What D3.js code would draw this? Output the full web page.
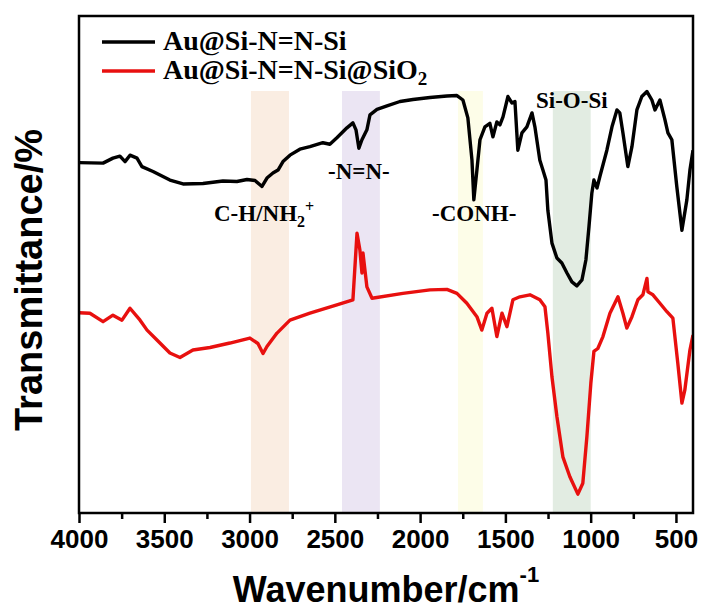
<!DOCTYPE html>
<html>
<head>
<meta charset="utf-8">
<script src="https://cdn.jsdelivr.net/npm/d3@7"></script>
<style>
  body { margin: 0; background: #fff; }
  .serif { font-family: "Liberation Serif", "Times New Roman", serif; font-weight: bold; }
  .sans { font-family: "Liberation Sans", Arial, sans-serif; font-weight: bold; }
</style>
</head>
<body>
<div id="chart"></div>
<script>
// wavenumber (cm-1) and transmittance (arbitrary %, offset spectra)
const waveBlack = [4000, 3859, 3801, 3760, 3730, 3701, 3660, 3631, 3566, 3467, 3390, 3273, 3156, 3074, 3015, 2968, 2927, 2898, 2863, 2833, 2804, 2763, 2705, 2646, 2570, 2529, 2488, 2429, 2394, 2376, 2359, 2341, 2312, 2294, 2253, 2194, 2118, 2042, 1942, 1843, 1784, 1749, 1720, 1696, 1685, 1667, 1649, 1620, 1591, 1573, 1550, 1532, 1514, 1485, 1462, 1444, 1427, 1403, 1374, 1344, 1327, 1298, 1280, 1262, 1251, 1227, 1198, 1169, 1139, 1110, 1081, 1051, 1028, 1010, 993, 981, 963, 946, 905, 875, 846, 829, 811, 782, 758, 729, 700, 670, 641, 623, 594, 565, 547, 524, 495, 465, 436, 418, 400]
const transBlack = [70.5, 70.4, 71.4, 71.8, 70.7, 72.0, 71.4, 69.7, 68.7, 67.0, 66.2, 66.3, 66.8, 66.7, 67.1, 66.9, 65.7, 67.4, 68.4, 69.0, 70.7, 72.0, 73.2, 73.7, 74.5, 74.2, 75.5, 77.5, 78.5, 77.1, 73.4, 75.1, 77.1, 80.1, 81.2, 81.9, 82.8, 83.2, 83.6, 83.9, 84.0, 83.1, 79.5, 71.0, 63.0, 69.0, 75.1, 77.7, 78.4, 75.7, 78.7, 78.1, 79.7, 83.8, 82.5, 82.8, 73.0, 76.5, 77.7, 80.5, 77.7, 71.0, 69.0, 67.0, 60.9, 54.3, 51.3, 50.3, 48.3, 46.5, 45.7, 46.9, 50.9, 57.6, 64.4, 67.0, 65.4, 67.7, 73.0, 77.7, 81.1, 80.5, 76.5, 69.7, 73.7, 81.1, 83.8, 84.8, 83.1, 81.1, 83.1, 79.2, 76.5, 75.1, 65.7, 56.9, 63.0, 69.0, 73.0]

const waveRed = [4000, 3936, 3859, 3801, 3748, 3701, 3642, 3601, 3543, 3467, 3408, 3332, 3232, 3115, 2998, 2951, 2921, 2898, 2839, 2763, 2646, 2488, 2394, 2370, 2353, 2341, 2335, 2312, 2282, 2101, 1942, 1843, 1784, 1726, 1667, 1638, 1608, 1579, 1550, 1520, 1491, 1456, 1415, 1356, 1298, 1268, 1251, 1227, 1198, 1163, 1122, 1075, 1046, 1022, 999, 981, 958, 928, 887, 840, 811, 788, 758, 723, 694, 670, 664, 635, 594, 553, 518, 489, 465, 448, 418, 400]
const transRed = [40.3, 40.2, 38.5, 39.8, 38.8, 41.2, 38.8, 36.8, 34.8, 32.2, 31.3, 32.8, 33.3, 34.2, 35.2, 34.1, 32.1, 33.5, 36.2, 38.8, 40.2, 41.9, 42.9, 56.3, 52.9, 48.3, 52.3, 45.5, 43.2, 44.2, 44.9, 45.0, 44.2, 42.2, 39.5, 36.8, 40.2, 41.2, 35.5, 40.2, 37.5, 42.9, 43.5, 43.9, 42.9, 41.5, 36.2, 27.4, 19.4, 11.3, 7.3, 3.8, 6.0, 15.4, 26.1, 32.5, 33.1, 35.5, 40.2, 43.5, 40.2, 37.2, 39.5, 42.9, 43.9, 47.2, 44.5, 43.9, 42.2, 40.5, 39.2, 30.1, 22.1, 24.7, 32.8, 35.8]

// highlighted bands [from, to] in cm-1
const bandRanges = [[2992, 2769], [2458, 2236], [1778, 1632], [1222, 1000]]
const bandColors = ['#faede2', '#ebe5f3', '#fdfde8', '#e2ece2']

const majorTicks = [4000, 3500, 3000, 2500, 2000, 1500, 1000, 500]
const minorTicks = [3750, 3250, 2750, 2250, 1750, 1250, 750]

const margin = { top: 16, left: 79, right: 9, bottom: 99 }
const width = 702 - margin.left - margin.right
const height = 612 - margin.top - margin.bottom

const svg = d3
  .select('#chart')
  .append('svg')
  .attr('width', 702)
  .attr('height', 612)

const plot = svg
  .append('g')
  .attr('transform', 'translate(' + margin.left + ',' + margin.top + ')')

const xPositionScale = d3.scaleLinear().domain([4000, 400]).range([0, width])
const yPositionScale = d3.scaleLinear().domain([0, 100]).range([height, 0])

plot
  .append('clipPath')
  .attr('id', 'clip')
  .append('rect')
  .attr('width', width)
  .attr('height', height)

// bands
plot
  .selectAll('.band')
  .data(bandRanges)
  .enter()
  .append('rect')
  .attr('class', 'band')
  .attr('x', d => xPositionScale(d[0]))
  .attr('width', d => xPositionScale(d[1]) - xPositionScale(d[0]))
  .attr('y', 75)
  .attr('height', height - 75)
  .attr('fill', (d, i) => bandColors[i])

const line = d3
  .line()
  .x(d => xPositionScale(d[0]))
  .y(d => yPositionScale(d[1]))

const series = [
  { values: d3.zip(waveBlack, transBlack), color: '#000000' },
  { values: d3.zip(waveRed, transRed), color: '#e8100f' }
]

plot
  .selectAll('.spectrum')
  .data(series)
  .enter()
  .append('path')
  .attr('class', 'spectrum')
  .attr('clip-path', 'url(#clip)')
  .attr('d', d => line(d.values))
  .attr('fill', 'none')
  .attr('stroke', d => d.color)
  .attr('stroke-width', 3.4)
  .attr('stroke-linejoin', 'round')

// frame
plot
  .append('rect')
  .attr('width', width)
  .attr('height', height)
  .attr('fill', 'none')
  .attr('stroke', '#000')
  .attr('stroke-width', 2.5)

// x axis
const xAxis = d3
  .axisBottom(xPositionScale)
  .tickValues(majorTicks)
  .tickSize(10)
  .tickPadding(7)
  .tickFormat(d3.format('d'))
const xg = plot
  .append('g')
  .attr('class', 'axis x-axis')
  .attr('transform', 'translate(0,' + height + ')')
  .call(xAxis)
xg.select('.domain').remove()
xg.selectAll('line').attr('stroke-width', 2.5)
xg.selectAll('text')
  .attr('class', 'sans')
  .attr('font-size', 26)
  .attr('fill', '#000')

const xMinor = d3.axisBottom(xPositionScale).tickValues(minorTicks).tickSize(6).tickFormat('')
const xg2 = plot
  .append('g')
  .attr('transform', 'translate(0,' + height + ')')
  .call(xMinor)
xg2.select('.domain').remove()
xg2.selectAll('line').attr('stroke-width', 2.5)

// axis titles
const xt = svg
  .append('text')
  .attr('class', 'sans')
  .attr('x', margin.left + width / 2)
  .attr('y', 602)
  .attr('text-anchor', 'middle')
  .attr('font-size', 36)
xt.append('tspan').text('Wavenumber/cm')
xt.append('tspan').attr('font-size', 22).attr('dy', -20).text('-1')

svg
  .append('text')
  .attr('class', 'sans')
  .attr('transform', 'translate(42,280) rotate(-90)')
  .attr('text-anchor', 'middle')
  .attr('font-size', 38)
  .text('Transmittance/%')

// legend
const legendLabels = [['Au@Si-N=N-Si', ''], ['Au@Si-N=N-Si@SiO', '2']]
legendLabels.forEach((lab, i) => {
  const yy = 42 + i * 29
  svg
    .append('line')
    .attr('x1', 102)
    .attr('x2', 155)
    .attr('y1', yy)
    .attr('y2', yy)
    .attr('stroke', series[i].color)
    .attr('stroke-width', 3.4)
  const t = svg
    .append('text')
    .attr('class', 'serif')
    .attr('x', 163)
    .attr('y', yy + 8)
    .attr('font-size', 28)
  t.append('tspan').text(lab[0])
  if (lab[1]) t.append('tspan').attr('font-size', 19).attr('dy', 6).text(lab[1])
})

// peak annotations
const notes = [
  { x: 214, y: 221, parts: [['C-H/NH', 0], ['2', 6], ['+', -9]] },
  { x: 328, y: 179, parts: [['-N=N-', 0]] },
  { x: 432, y: 221, parts: [['-CONH-', 0]] },
  { x: 536, y: 108, parts: [['Si-O-Si', 0]] }
]
notes.forEach(n => {
  const t = svg
    .append('text')
    .attr('class', 'serif')
    .attr('x', n.x)
    .attr('y', n.y)
    .attr('font-size', 23)
  let prev = 0
  n.parts.forEach((p, j) => {
    const ts = t.append('tspan').text(p[0])
    if (j > 0) ts.attr('font-size', 16).attr('dy', p[1] - prev)
    prev = p[1]
  })
})
</script>
</body>
</html>
